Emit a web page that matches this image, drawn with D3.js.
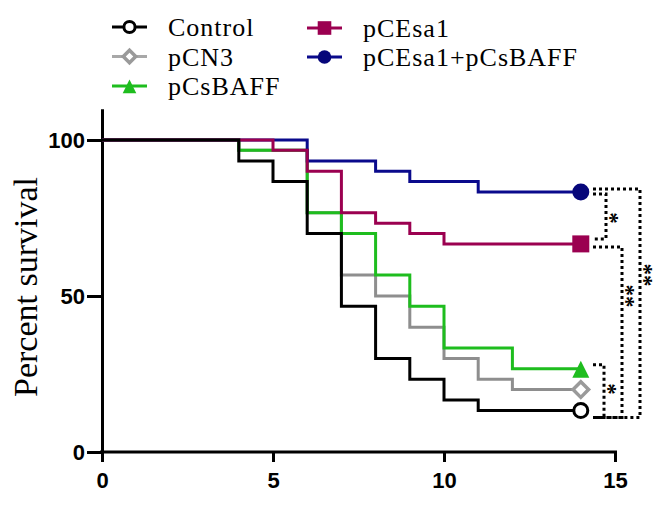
<!DOCTYPE html>
<html>
<head>
<meta charset="utf-8">
<script src="https://cdn.jsdelivr.net/npm/d3@7"></script>
<style>
  body { margin: 0; background: #fff; }
  svg { display: block; }
</style>
</head>
<body>
<svg id="chart" width="658" height="510"></svg>
<script>
// days where the survival curves can step
const days = [0, 4, 5, 6, 7, 8, 9, 10, 11, 12, 14]
// percent survival from each day until the next one
const control   = [100, 93.3, 86.7, 70.0, 46.7, 30.0, 23.3, 16.7, 13.3, 13.3, 13.3]
const pCN3      = [100, 96.7, 96.7, 76.7, 56.7, 50.0, 40.0, 30.0, 23.3, 20.0, 20.0]
const pCsBAFF   = [100, 96.7, 96.7, 76.7, 70.0, 56.7, 46.7, 33.3, 33.3, 26.7, 26.7]
const pCEsa1    = [100, 100, 96.7, 90.0, 76.7, 73.3, 70.0, 66.7, 66.7, 66.7, 66.7]
const pCEsaBAFF = [100, 100, 100, 93.3, 93.3, 90.0, 86.7, 86.7, 83.3, 83.3, 83.3]

const seriesNames = ["Control", "pCN3", "pCsBAFF", "pCEsa1", "pCEsa1+pCsBAFF"]
const xTicks = [0, 5, 10, 15]
const yTicks = [0, 50, 100]
// significance brackets: [upper group, lower group, label]
const brackets = [
  ["pCEsa1+pCsBAFF", "pCEsa1", "*"],
  ["pCsBAFF", "Control", "*"],
  ["pCEsa1", "Control", "**"],
  ["pCEsa1+pCsBAFF", "Control", "**"]
]

const values = {"Control": control, "pCN3": pCN3, "pCsBAFF": pCsBAFF, "pCEsa1": pCEsa1, "pCEsa1+pCsBAFF": pCEsaBAFF}
const colors = {"Control": "#000000", "pCN3": "#8e8e8e", "pCsBAFF": "#1ebd1e", "pCEsa1": "#9b0050", "pCEsa1+pCsBAFF": "#0a0a8c"}
const markerFill = {"Control": "#fff", "pCN3": "#fff", "pCsBAFF": "#1ebd1e", "pCEsa1": "#9b0050", "pCEsa1+pCsBAFF": "#06067a"}

const svg = d3.select("#chart")
const x = d3.scaleLinear().domain([0, 15]).range([102, 615])
const y = d3.scaleLinear().domain([0, 110]).range([452, 108.8])

// axes
const yAxis = svg.append("g")
    .attr("transform", "translate(" + x(0) + ",0)")
    .call(d3.axisLeft(y).tickValues(yTicks).tickSize(15).tickSizeOuter(0).tickPadding(2))
const xAxis = svg.append("g")
    .attr("transform", "translate(0," + y(0) + ")")
    .call(d3.axisBottom(x).tickValues(xTicks).tickSize(10).tickSizeOuter(0).tickPadding(10))
svg.selectAll(".domain, .tick line").attr("stroke", "#000").attr("stroke-width", 3)
svg.selectAll(".tick text")
    .attr("fill", "#000")
    .style("font-family", "'Liberation Sans', Arial, sans-serif")
    .style("font-weight", "bold")
    .style("font-size", "22px")
xAxis.select(".domain").attr("d", "M" + (x(0) - 2) + ",0H" + (x(15) + 2))

svg.append("text")//axis title
    .attr("transform", "translate(37," + 287 + ") rotate(-90)")
    .attr("text-anchor", "middle")
    .style("font-family", "'Liberation Serif', 'Times New Roman', serif")
    .style("font-size", "34px")
    .text("Percent survival")

// step curves, drawn so the overlaps look like the figure
const line = d3.line()
    .x((d, i) => x(days[i]))
    .y(d => y(d))
    .curve(d3.curveStepAfter)
const drawOrder = ["pCN3", "pCsBAFF", "pCEsa1+pCsBAFF", "pCEsa1", "Control"]
drawOrder.forEach(name => {
  svg.append("path")
      .attr("d", line(values[name]))
      .attr("fill", "none")
      .attr("stroke", colors[name])
      .attr("stroke-width", 3)
})

function drawMarker(g, name, s) {//s = scale of the marker
  if (name === "Control") {
    g.append("circle").attr("r", 7 * s).attr("fill", markerFill[name]).attr("stroke", colors[name]).attr("stroke-width", 3)
  } else if (name === "pCN3") {
    g.append("rect").attr("x", -5.5 * s).attr("y", -5.5 * s).attr("width", 11 * s).attr("height", 11 * s)
      .attr("transform", "rotate(45)")
      .attr("fill", markerFill[name]).attr("stroke", "#9a9a9a").attr("stroke-width", 3.5)
  } else if (name === "pCsBAFF") {
    g.append("path").attr("d", "M0," + (-8 * s) + "L" + (8.5 * s) + "," + (9 * s) + "L" + (-8.5 * s) + "," + (9 * s) + "Z")
      .attr("fill", markerFill[name])
  } else if (name === "pCEsa1") {
    g.append("rect").attr("x", -8.5 * s).attr("y", -8.5 * s).attr("width", 17 * s).attr("height", 17 * s)
      .attr("fill", markerFill[name])
  } else {
    g.append("circle").attr("r", 8.5 * s).attr("fill", markerFill[name])
  }
}

// end markers on day 14
seriesNames.forEach(name => {
  let v = values[name]
  let g = svg.append("g").attr("transform", "translate(" + x(days[days.length - 1]) + "," + y(v[v.length - 1]) + ")")
  drawMarker(g, name, 1)
})

// dotted significance brackets
const armRight = {"pCEsa1+pCsBAFF,pCEsa1": 606, "pCsBAFF,Control": 604, "pCEsa1,Control": 622, "pCEsa1+pCsBAFF,Control": 640}
const topShift = {"pCEsa1+pCsBAFF,pCEsa1": 2, "pCsBAFF,Control": -4, "pCEsa1,Control": 3, "pCEsa1+pCsBAFF,Control": -3}
const botShift = {"pCEsa1+pCsBAFF,pCEsa1": -5, "pCsBAFF,Control": 7, "pCEsa1,Control": 7, "pCEsa1+pCsBAFF,Control": 7}
const labelY = {"pCEsa1+pCsBAFF,pCEsa1": 218, "pCsBAFF,Control": 389, "pCEsa1,Control": 296, "pCEsa1+pCsBAFF,Control": 275}
const startX = 593
brackets.forEach(b => {
  let key = b[0] + "," + b[1]
  let v1 = values[b[0]], v2 = values[b[1]]
  let y1 = y(v1[v1.length - 1]) + topShift[key]
  let y2 = y(v2[v2.length - 1]) + botShift[key]
  let xr = armRight[key]
  svg.append("path")
      .attr("d", "M" + startX + "," + y1 + "H" + xr + "V" + y2 + "H" + startX)
      .attr("fill", "none")
      .attr("stroke", "#000")
      .attr("stroke-width", 3)
      .attr("stroke-dasharray", "3,3")
  svg.append("text")
      .attr("transform", "translate(" + (xr + 6) + "," + labelY[key] + ") rotate(90)")
      .attr("y", 9)
      .attr("text-anchor", "middle")
      .style("font-family", "'Liberation Serif', 'Times New Roman', serif")
      .style("font-size", "23px")
      .style("font-weight", "bold")
      .text(b[2])
})

// legend
const legendPos = [[112, 27], [112, 56.5], [112, 86], [307, 28], [307, 57]]
seriesNames.forEach((name, i) => {
  let lx = legendPos[i][0], ly = legendPos[i][1]
  let g = svg.append("g").attr("transform", "translate(" + lx + "," + ly + ")")
  g.append("line").attr("x1", 0).attr("x2", 35)
      .attr("stroke", name === "pCN3" ? "#a8a8a8" : colors[name]).attr("stroke-width", 3)
  let mg = g.append("g").attr("transform", "translate(17.5,0)")
  drawMarker(mg, name, 0.8)
  g.append("text")
      .attr("x", 56)
      .attr("y", 9)
      .style("font-family", "'Liberation Serif', 'Times New Roman', serif")
      .style("font-size", "26px")
      .style("letter-spacing", "1px")
      .text(name)
})
</script>
</body>
</html>
